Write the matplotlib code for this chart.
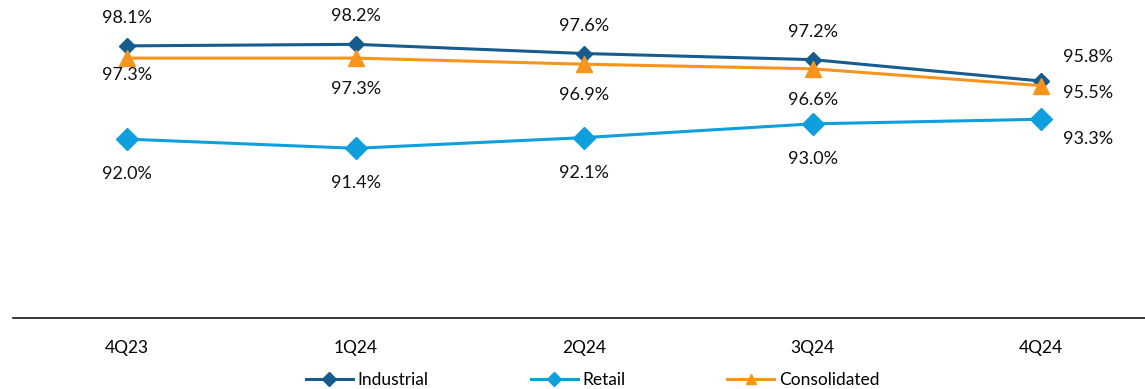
import matplotlib.pyplot as plt

plt.rcParams['font.family'] = ['Lato', 'DejaVu Sans']

quarters = ['4Q23', '1Q24', '2Q24', '3Q24', '4Q24']
industrial = [98.1, 98.2, 97.6, 97.2, 95.8]
retail = [92.0, 91.4, 92.1, 93.0, 93.3]
consolidated = [97.3, 97.3, 96.9, 96.6, 95.5]

c_ind = '#175C8E'
c_ret = '#0E9FDC'
c_con = '#F7941D'

fig = plt.figure(figsize=(11.45, 3.89), dpi=100)
ax = fig.add_axes([13 / 1145, 1 - 318 / 389, 1 - 13 / 1145, 318 / 389])

x = list(range(len(quarters)))
ax.plot(x, industrial, color=c_ind, lw=2.2, marker='D', ms=8, label='Industrial')
ax.plot(x, retail, color=c_ret, lw=2.2, marker='D', ms=11, label='Retail')
ax.plot(x, consolidated, color=c_con, lw=2.2, marker='^', ms=11, label='Consolidated')


def label(vals, dy, first_dy=None, last_off=(47, 0)):
    for i, v in enumerate(vals):
        off = (0, dy)
        if i == 0 and first_dy is not None:
            off = (0, first_dy)
        if i == len(vals) - 1:
            off = last_off
        ax.annotate(f'{v:.1f}%', (i, v), xytext=off, textcoords='offset pixels',
                    ha='center', va='center', fontsize=13, color='#111111')


label(industrial, 28, last_off=(47, 24))
label(consolidated, -31, first_dy=-17, last_off=(47, -7))
label(retail, -35, last_off=(47, -20))

ax.set_xlim(-0.5, 4.455)
ax.set_ylim(80.3, 101.1)
ax.set_xticks(x)
ax.set_xticklabels(quarters, fontsize=12.5)
ax.tick_params(axis='x', length=0, pad=16)
ax.set_yticks([])
for s in ['top', 'right', 'left']:
    ax.spines[s].set_visible(False)
ax.spines['bottom'].set_linewidth(1.1)

leg = ax.legend(loc='center', bbox_to_anchor=(0.512, -0.195), ncol=3, frameon=False,
                fontsize=12.5, handlelength=2.7, columnspacing=5.9, handletextpad=0.25)
for h in leg.legend_handles:
    h.set_markersize(7)

fig.savefig('out.png', dpi=100)
